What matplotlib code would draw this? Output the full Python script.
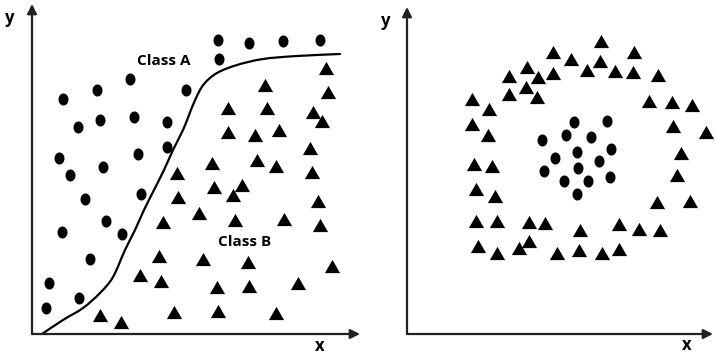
import matplotlib
matplotlib.use("Agg")
import matplotlib.pyplot as plt
from matplotlib.path import Path
from matplotlib.patches import PathPatch
import numpy as np

# ---- left panel: two classes split by a boundary curve ----
left_circle_x = [31, 65, 98, 46, 68, 102, 135, 27, 71, 106, 135, 38, 53, 109,
                 74, 30, 90, 58, 17, 47, 14, 186, 217, 251, 288, 187, 154]
left_circle_y = [235, 244, 255, 207, 214, 217, 212, 176, 167, 180, 187, 159, 135, 140,
                 113, 102, 100, 75, 51, 36, 26, 294, 291, 293, 294, 275, 244]

left_tri_x = [294, 233, 296, 196, 235, 281, 290, 196, 223, 247, 278, 180, 225, 244,
              280, 145, 182, 210, 201, 146, 286, 167, 203, 252, 288, 131, 171, 216,
              300, 127, 185, 217, 266, 108, 129, 142, 186, 244, 68, 89]
left_tri_y = [266, 249, 242, 226, 226, 222, 213, 202, 199, 204, 186, 171, 174, 168,
              162, 161, 147, 149, 139, 137, 133, 121, 114, 115, 109, 112, 75, 72,
              68, 78, 47, 48, 51, 59, 53, 22, 23, 21, 19, 12]

curve_x = [10, 31, 51, 68, 81, 93, 103, 112, 122, 132, 141, 151, 157, 164, 172,
           185, 205, 231, 265, 308]
curve_y = [0, 14, 26, 41, 57, 84, 104, 124, 144, 164, 184, 204, 219, 236, 250,
           261, 269, 275, 278, 280]

# ---- right panel: ring of triangles around a cluster of circles ----
right_tri_x = [146, 120, 102, 131, 146, 119, 102, 130, 65, 82, 65, 81, 67, 85,
               194, 164, 227, 193, 180, 208, 226, 251, 242, 265, 285, 266, 299,
               274, 270, 250, 283, 173, 212, 232, 253, 150, 172, 195, 212,
               69, 88, 69, 90, 122, 138, 71, 90, 112, 122]
right_tri_y = [282, 267, 258, 257, 261, 247, 240, 237, 235, 225, 210, 199, 170, 168,
               293, 275, 282, 273, 264, 263, 262, 259, 233, 232, 229, 208, 202,
               181, 159, 132, 133, 104, 110, 105, 104, 81, 84, 81, 85,
               145, 138, 113, 113, 112, 111, 88, 81, 86, 93]

right_circle_x = [135, 148, 137, 167, 200, 159, 184, 204, 170, 192, 171, 157, 181, 203, 170]
right_circle_y = [194, 176, 163, 212, 213, 199, 197, 185, 182, 173, 166, 153, 153, 157, 140]

W, H = 715, 355
AXIS_COLOR = "#222222"
FONT = dict(family="Open Sans", fontweight="bold", color="black")

# slightly tall ellipse for the dots, slightly flat triangle
t = np.linspace(0, 2 * np.pi, 60)
dot = Path(np.column_stack([0.83 * np.cos(t), np.sin(t)]), closed=True)
tri = Path([(0, 0.87), (-1, -0.87), (1, -0.87), (0, 0.87)], closed=True)


def smooth_path(xs, ys):
    # cubic bezier segments through the read points (catmull-rom handles)
    p = np.column_stack([xs, ys]).astype(float)
    verts, codes = [p[0]], [Path.MOVETO]
    for i in range(len(p) - 1):
        p0 = p[max(i - 1, 0)]
        p3 = p[min(i + 2, len(p) - 1)]
        c1 = p[i] + (p[i + 1] - p0) / 6
        c2 = p[i + 1] - (p3 - p[i]) / 6
        verts += [c1, c2, p[i + 1]]
        codes += [Path.CURVE4] * 3
    return Path(verts, codes)


def make_panel(fig, x0, y0, x1, y1):
    # axes placed so that one data unit equals one pixel
    ax = fig.add_axes([x0 / W, (H - y0) / H, (x1 - x0) / W, (y0 - y1) / H])
    ax.set_xlim(0, x1 - x0)
    ax.set_ylim(0, y0 - y1)
    ax.axis("off")
    arrow = dict(arrowstyle="-|>", lw=1.6, color=AXIS_COLOR,
                 mutation_scale=14, shrinkA=0, shrinkB=0)
    ax.annotate("", xy=(0, y0 - y1), xytext=(0, 0), arrowprops=arrow,
                annotation_clip=False)
    ax.annotate("", xy=(x1 - x0, 0), xytext=(0, 0), arrowprops=arrow,
                annotation_clip=False)
    return ax


fig = plt.figure(figsize=(W / 100, H / 100), dpi=100)

ax1 = make_panel(fig, 32, 334, 360, 4)
ax1.add_patch(PathPatch(smooth_path(curve_x, curve_y), facecolor="none",
                        edgecolor="black", lw=1.6, capstyle="round"))
ax1.scatter(left_circle_x, left_circle_y, marker=dot, s=75, color="black",
            linewidths=0, clip_on=False)
ax1.scatter(left_tri_x, left_tri_y, marker=tri, s=120, color="black",
            linewidths=0, clip_on=False)
ax1.text(132, 273, "Class A", ha="center", va="center", fontsize=11, **FONT)
ax1.text(213, 92, "Class B", ha="center", va="center", fontsize=11, **FONT)
ax1.text(-22, 316, "y", ha="center", va="center", fontsize=12, **FONT)
ax1.text(288, -12, "x", ha="center", va="center", fontsize=12, **FONT)

ax2 = make_panel(fig, 407, 334, 713, 7)
ax2.scatter(right_circle_x, right_circle_y, marker=dot, s=75, color="black",
            linewidths=0, clip_on=False)
ax2.scatter(right_tri_x, right_tri_y, marker=tri, s=120, color="black",
            linewidths=0, clip_on=False)
ax2.text(-21, 313, "y", ha="center", va="center", fontsize=12, **FONT)
ax2.text(280, -11, "x", ha="center", va="center", fontsize=12, **FONT)

fig.savefig("out.png", dpi=100, facecolor="white")
plt.close(fig)
